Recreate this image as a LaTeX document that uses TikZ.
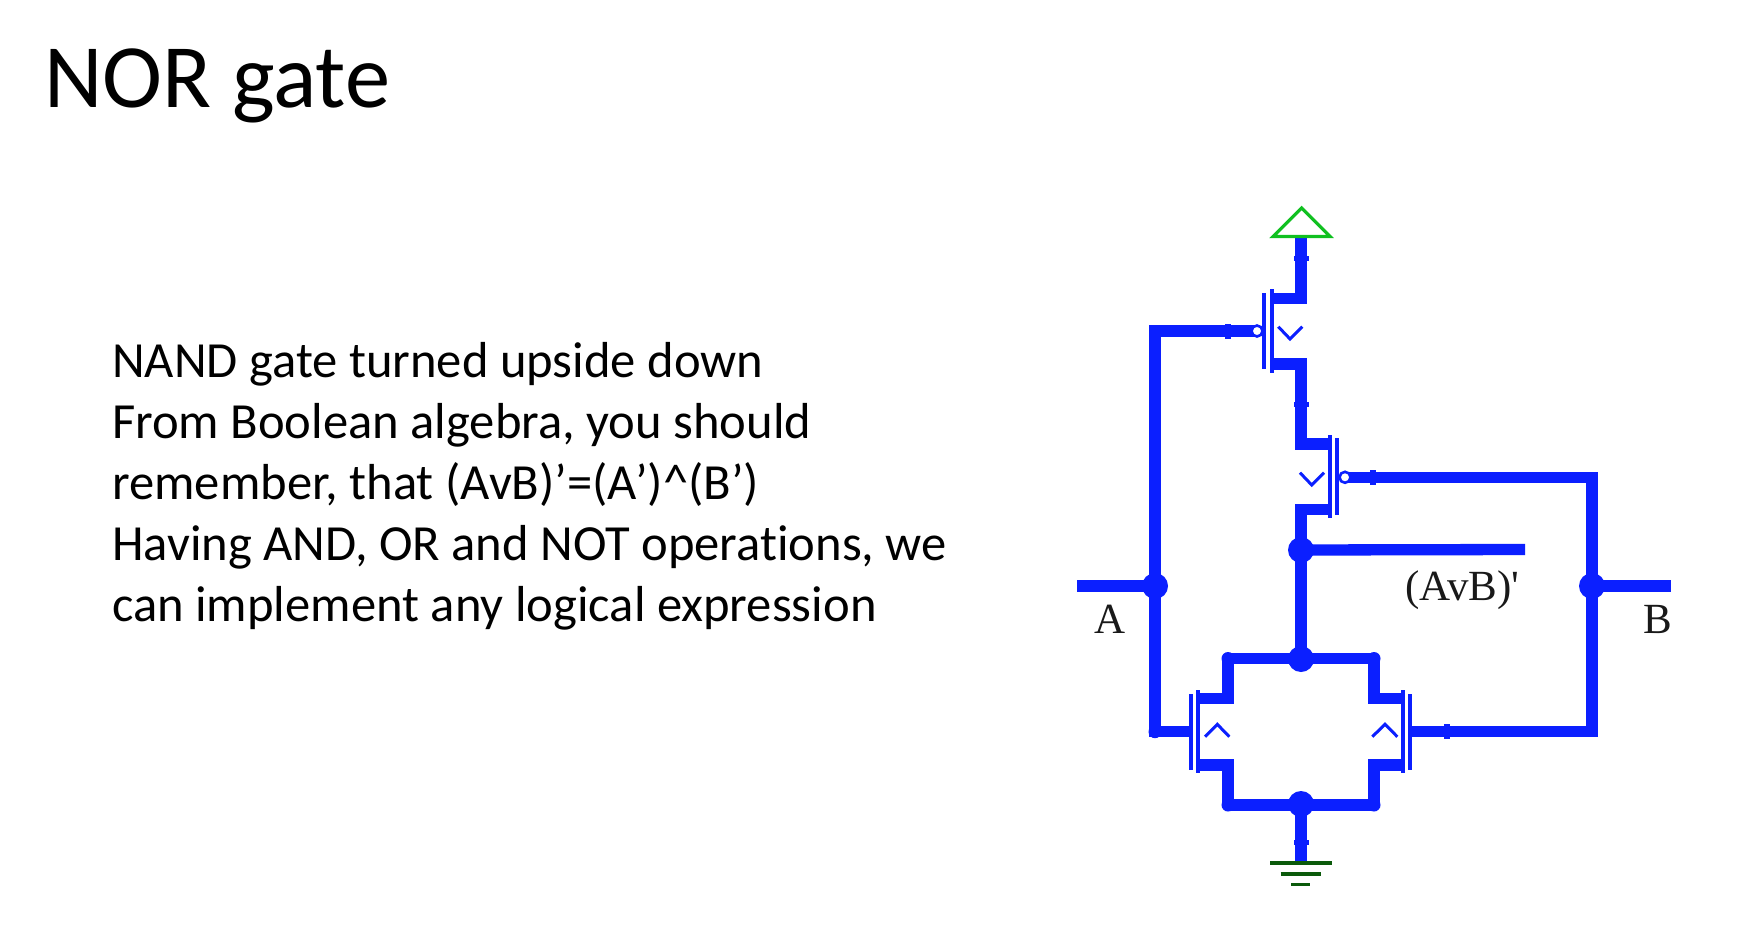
\documentclass[tikz,border=0pt]{standalone}
\usepackage{fontspec}
\setmainfont[Ligatures=NoCommon]{Carlito}
\newfontfamily\figfont{Liberation Serif}
\definecolor{wireblue}{HTML}{0B1FFF}
\definecolor{vddgreen}{HTML}{10C020}
\definecolor{gndgreen}{HTML}{0B5A0B}
\tikzset{
  wire/.style={draw=wireblue,line width=11.3pt,line cap=butt,line join=miter},
  chan/.style={draw=wireblue,line width=4pt},
  chev/.style={draw=wireblue,line width=3pt,line join=miter},
  junction/.style={circle,fill=wireblue,minimum size=26pt,inner sep=0pt,outer sep=0pt},
  stub/.style={circle,fill=wireblue,minimum size=13pt,inner sep=0pt,outer sep=0pt},
  bubble/.style={circle,draw=wireblue,fill=white,line width=2.6pt,minimum size=11pt,inner sep=0pt,outer sep=0pt},
  tickh/.style={rectangle,fill=wireblue,minimum width=15pt,minimum height=5pt,inner sep=0pt,outer sep=0pt},
  tickv/.style={rectangle,fill=wireblue,minimum width=6pt,minimum height=15pt,inner sep=0pt,outer sep=0pt},
  figlabel/.style={font=\figfont\fontsize{43}{43}\selectfont,inner sep=0pt,outer sep=0pt,anchor=base west,text=black!90},
  gndbar/.style={draw=gndgreen,line width=3.6pt},
}
\begin{document}
\begin{tikzpicture}[x=1pt,y=-1pt]
\useasboundingbox[fill=white] (0,0) rectangle (1764,934);

% text
\node[inner sep=0pt,anchor=base west,font=\fontsize{90.5}{90.5}\selectfont] (title) at (44,107.5) {NOR gate};
\node[inner sep=0pt,anchor=north west,align=left,font=\fontsize{50.6}{61}\selectfont] (body) at (112,342)
 {NAND gate turned upside down\\From Boolean algebra, you should\\remember, that (AvB)’=(A’)\^{}(B’)\\Having AND, OR and NOT operations, we\\can implement any logical expression};

% named points
\coordinate (vddb) at (1301,237);
\coordinate (gnd) at (1301,862.7);
\coordinate (Ain) at (1077,586);
\coordinate (Bin) at (1671,586);
\coordinate (Out) at (1525,549.5);
\coordinate (Ltop) at (1155,331);
\coordinate (Rtop) at (1592,477.3);
\coordinate (Rbot) at (1592,731.7);

% junctions (placed first as anchors)
\coordinate (jA) at (1155,586);
\coordinate (jB) at (1592,586);
\coordinate (jOut) at (1301,550);
\coordinate (jMid) at (1301,659);
\coordinate (jGnd) at (1301,804);
\coordinate (sLG) at (1155,731.7);
\coordinate (sTL) at (1228,658.5);
\coordinate (sTR) at (1374,658.5);
\coordinate (sBL) at (1228,805);
\coordinate (sBR) at (1374,805);

% transistor terminals
\coordinate (t1s) at (1270,298.3);
\coordinate (t1d) at (1270,364);
\coordinate (t2s) at (1330,444);
\coordinate (t2d) at (1330,509.3);
\coordinate (t3d) at (1198,698.7);
\coordinate (t3s) at (1198,765);
\coordinate (t4d) at (1403,698.7);
\coordinate (t4s) at (1403,765);

% wires
\draw[wire] (vddb) |- (t1s);
\draw[wire] (t1d) -| (1301,444) -- (t2s);
\draw[wire] (t2d) -| (jOut);
\draw[wire] (jOut) -- (Out);
\draw[wire] (jOut) -- (jMid);
\draw[wire] (1258,331) -- (Ltop) -- (sLG) -- (1191,731.7);
\draw[wire] (Ain) -- (jA);
\draw[wire] (1345,477.3) -- (Rtop) -- (Rbot) -- (1410,731.7);
\draw[wire] (jB) -- (Bin);
\draw[wire] (sTL) -- (sTR);
\draw[wire] (sBL) -- (sBR);
\draw[wire] (sTL) |- (t3d);
\draw[wire] (sBL) |- (t3s);
\draw[wire] (sTR) |- (t4d);
\draw[wire] (sBR) |- (t4s);
\draw[wire] (jGnd) -- (gnd);

% transistor bars
\draw[chan] (1271.7,289) -- (1271.7,372.7);
\draw[chan] (1264.3,293) -- (1264.3,369);
\draw[chan] (1330,435) -- (1330,518);
\draw[chan] (1337.2,438) -- (1337.2,515);
\draw[chan] (1198.3,690) -- (1198.3,773);
\draw[chan] (1191.3,694) -- (1191.3,770);
\draw[chan] (1403,690) -- (1403,773);
\draw[chan] (1410,694) -- (1410,770);

% chevrons
\draw[chev] (1278.3,326.7) -- (1290,339) -- (1302.3,326.7);
\draw[chev] (1300,472.7) -- (1311.7,485) -- (1324,472.7);
\draw[chev] (1205,736.7) -- (1217.3,724.3) -- (1229.3,736.7);
\draw[chev] (1372.3,736.7) -- (1385,724.3) -- (1397.3,736.7);

% bubbles
\node[bubble] (b1) at (1257,331) {};
\node[bubble] (b2) at (1345,477.3) {};

% dots
\node[junction] (nA) at (jA) {};
\node[junction] (nB) at (jB) {};
\node[junction] (nOut) at (jOut) {};
\node[junction] (nMid) at (jMid) {};
\node[junction] (nGnd) at (jGnd) {};
\node[stub] (n1) at (sLG) {};
\node[stub] (n2) at (sTL) {};
\node[stub] (n3) at (sTR) {};
\node[stub] (n4) at (sBL) {};
\node[stub] (n5) at (sBR) {};

% small ticks
\node[tickh] (k1) at (1301,258) {};
\node[tickh] (k2) at (1301,404) {};
\node[tickh] (k3) at (1301,842) {};
\node[tickv] (k4) at (1228,331) {};
\node[tickv] (k5) at (1373,477.3) {};
\node[tickv] (k6) at (1447,731.7) {};

% supply
\draw[draw=vddgreen,line width=3.2pt,line join=miter] (1301.5,208) -- (1273,236.5) -- (1330,236.5) -- cycle;
\draw[gndbar] (1270,862.7) -- (1332,862.7);
\draw[gndbar] (1280.7,873.7) -- (1320.7,873.7);
\draw[gndbar] (1291,884.3) -- (1310,884.3);

% figure labels
\node[figlabel] (lA) at (1094,633) {A};
\node[figlabel] (lB) at (1643,633) {B};
\node[figlabel] (lO) at (1405,600) {(AvB)'};
\end{tikzpicture}
\end{document}
